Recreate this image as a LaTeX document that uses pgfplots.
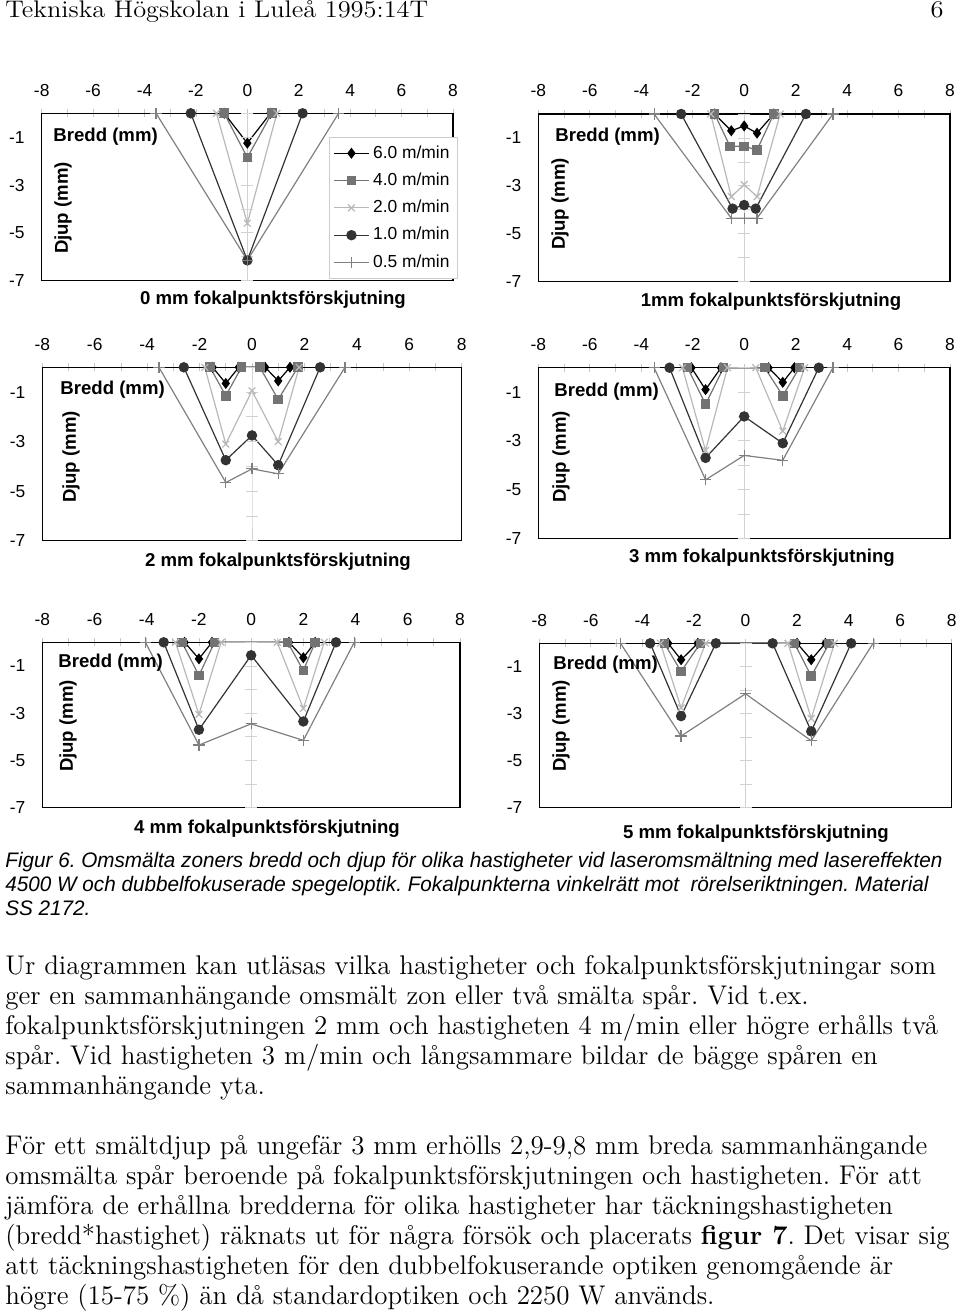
\documentclass[border=0pt]{standalone}
\usepackage{pgfplots}
\pgfplotsset{compat=1.18}
\usepackage{fontspec}
\newfontfamily\chartfont{Liberation Sans}
\newfontfamily\capfont[FakeStretch=0.985]{Liberation Sans}
\newfontfamily\bodyfont[Extension=.otf,UprightFont=*-regular,BoldFont=*-bold]{lmroman12}
\newfontfamily\headfont[Extension=.otf,UprightFont=*-regular,FakeStretch=1.1]{lmroman12}

\definecolor{c4}{gray}{0.45}
\definecolor{c2}{gray}{0.72}
\definecolor{c1}{gray}{0.2}
\definecolor{c05}{gray}{0.5}

\newcommand\tickfont{\chartfont\fontsize{8.7}{10}\selectfont}
\newcommand\labfont{\chartfont\bfseries\fontsize{9.3}{11}\selectfont}

\pgfplotsset{
  v6/.style={black, line width=0.6pt, mark=diamond*, mark size=2.3pt, mark options={solid, fill=black}},
  v4/.style={c4, line width=0.6pt, mark=square*, mark size=2.1pt, mark options={solid, fill=c4}},
  v2/.style={c2, line width=0.6pt, mark=x, mark size=2.4pt, mark options={solid}},
  v1/.style={c1, line width=0.6pt, mark=*, mark size=2.3pt, mark options={solid, fill=c1}},
  v05/.style={c05, line width=0.6pt, mark=+, mark size=2.8pt, mark options={solid}},
  panel/.style={
    scale only axis,
    anchor=north west,
    xmin=-8, xmax=8, ymin=-7, ymax=0,
    xtick={-8,-6,...,8},
    xticklabels={-8,-6,-4,-2,0,2,4,6,8},
    minor xtick={-7,-5,...,7},
    xtick pos=right,
    xticklabel pos=right,
    tick align=center,
    major tick length=4pt,
    minor tick length=4pt,
    tick style={gray!45, line width=0.4pt},
    ytick={-1,-3,-5,-7},
    yticklabels={-1,-3,-5,-7},
    ytick style={draw=none},
    ticklabel style={font=\tickfont},
    xticklabel style={yshift=3pt},
    yticklabel style={xshift=-3pt},
    axis line style={black, line width=0.7pt},
    clip=false,
  },
}

% light vertical axis at x = 0 with its small ticks
\newcommand\zeroline{\addplot[gray!35, line width=0.4pt, mark=-, mark size=3pt, forget plot]
  coordinates {(0,0) (0,-1) (0,-2) (0,-3) (0,-4) (0,-5) (0,-6) (0,-7)};}

\begin{document}
\frenchspacing
\begin{tikzpicture}
\path[use as bounding box] (0,0) rectangle (480pt,-657.5pt);

% header
\node[anchor=base west, inner sep=0] at (2.5pt,-9pt) {\headfont\fontsize{12}{14}\selectfont Tekniska Högskolan i Luleå 1995:14T};
\node[anchor=base, inner sep=0] at (468.5pt,-9pt) {\headfont\fontsize{12}{14}\selectfont 6};

% 0 mm
\begin{axis}[panel, at={(20.85pt,-56.65pt)}, width=205.65pt, height=83.7pt,
  legend style={at={(1.012,0.858)}, anchor=north east, draw=gray!40, line width=0.4pt,
    fill=white, font=\tickfont, row sep=1.85pt, inner sep=2pt},
  legend cell align=left]
\zeroline
\addplot[v6] coordinates {(-0.9,0) (0,-1.25) (0.9,0)};
\addplot[v4] coordinates {(-0.9,0) (0,-1.85) (0.95,0)};
\addplot[v2] coordinates {(-1.2,0) (0,-4.6) (1.15,0)};
\addplot[v1] coordinates {(-2.2,0) (0,-6.15) (2.15,0)};
\addplot[v05] coordinates {(-3.55,0) (0,-6.15) (3.55,0)};
\legend{6.0 m/min, 4.0 m/min, 2.0 m/min, 1.0 m/min, 0.5 m/min}
\end{axis}

% 1 mm
\begin{axis}[panel, at={(269.15pt,-57pt)}, width=205.85pt, height=83.85pt]
\zeroline
\addplot[v6] coordinates {(-1.15,0) (-0.5,-0.7) (0,-0.5) (0.5,-0.8) (1.15,0)};
\addplot[v4] coordinates {(-1.15,0) (-0.55,-1.35) (0,-1.35) (0.5,-1.5) (1.15,0)};
\addplot[v2] coordinates {(-1.3,0) (-0.5,-3.45) (0,-2.95) (0.5,-3.45) (1.4,0)};
\addplot[v1] coordinates {(-2.45,0) (-0.45,-3.95) (0,-3.8) (0.45,-3.95) (2.4,0)};
\addplot[v05] coordinates {(-3.5,0) (-0.5,-4.35) (0,-4.35) (0.5,-4.35) (3.45,0)};
\end{axis}

% 2 mm
\begin{axis}[panel, at={(21.15pt,-183.65pt)}, width=209.7pt, height=86.7pt]
\zeroline
\addplot[v6] coordinates {(-1.5,0) (-1,-0.65) (-0.5,0) (0.5,0) (1,-0.55) (1.45,0)};
\addplot[v4] coordinates {(-1.6,0) (-1,-1.15) (-0.4,0) (0.3,0) (1,-1.3) (1.75,0)};
\addplot[v2] coordinates {(-1.8,0) (-1,-3.1) (0,-0.95) (1,-3.0) (1.8,0)};
\addplot[v1] coordinates {(-2.6,0) (-1,-3.75) (0,-2.75) (1,-3.95) (2.6,0)};
\addplot[v05] coordinates {(-3.55,0) (-1,-4.65) (0,-4.1) (1,-4.3) (3.55,0)};
\end{axis}

% 3 mm
\begin{axis}[panel, at={(269.15pt,-183.85pt)}, width=205.85pt, height=85.3pt]
\zeroline
\addplot[v6] coordinates {(-2.05,0) (-1.5,-0.9) (-0.9,0) (0.95,0) (1.5,-0.6) (1.95,0)};
\addplot[v4] coordinates {(-2.2,0) (-1.5,-1.5) (-0.8,0) (0.8,0) (1.5,-1.15) (2.15,0)};
\addplot[v2] coordinates {(-2.4,0) (-1.5,-3.4) (-0.65,0) (0.45,0) (1.5,-2.6) (2.35,0)};
\addplot[v1] coordinates {(-2.9,0) (-1.5,-3.7) (0,-2.0) (1.5,-3.1) (2.9,0)};
\addplot[v05] coordinates {(-3.5,0) (-1.5,-4.6) (0,-3.6) (1.5,-3.8) (3.45,0)};
\end{axis}

% 4 mm
\begin{axis}[panel, at={(21.15pt,-321.15pt)}, width=208.85pt, height=82.7pt]
\zeroline
\addplot[v6] coordinates {(-2.55,0) (-2,-0.7) (-1.5,0) (1.45,0) (2,-0.65) (2.45,0)};
\addplot[v4] coordinates {(-2.65,0) (-2,-1.4) (-1.4,0) (1.4,0) (2,-1.2) (2.45,0)};
\addplot[v2] coordinates {(-2.9,0) (-2,-3.05) (-1.15,0) (1.0,0) (2,-2.8) (2.8,0)};
\addplot[v1] coordinates {(-3.35,0) (-2,-3.7) (0,-0.55) (2,-3.35) (3.25,0)};
\addplot[v05] coordinates {(-4.05,0) (-2,-4.35) (0,-3.45) (2,-4.15) (3.95,0)};
\end{axis}

% 5 mm
\begin{axis}[panel, at={(269.65pt,-321.65pt)}, width=206.2pt, height=82.2pt]
\zeroline
\addplot[v6] coordinates {(-3.0,0) (-2.5,-0.7) (-1.85,0) (2.0,0) (2.55,-0.7) (3.1,0)};
\addplot[v4] coordinates {(-3.15,0) (-2.5,-1.2) (-1.75,0) (1.9,0) (2.55,-1.4) (3.25,0)};
\addplot[v2] coordinates {(-3.3,0) (-2.5,-2.75) (-1.55,0) (1.65,0) (2.55,-3.2) (3.45,0)};
\addplot[v1] coordinates {(-3.7,0) (-2.5,-3.1) (-1.15,0) (1.05,0) (2.55,-3.75) (4.1,0)};
\addplot[v05] coordinates {(-4.85,0) (-2.5,-3.95) (0,-2.15) (2.55,-4.15) (4.95,0)};
\end{axis}

% panel labels
\foreach \x/\y in {26.5/68.5, 277.5/68.5, 30/195, 277/196, 29/331.5, 276.5/332.5}
  \node[anchor=west, inner sep=0, font=\labfont] at (\x pt,-\y pt) {Bredd (mm)};
\foreach \x/\y in {31.5/104, 280/102, 35.5/228.5, 280.5/228.5, 34/363, 280.5/363}
  \node[rotate=90, inner sep=0, font=\labfont] at (\x pt,-\y pt) {Djup (mm)};
\node[inner sep=0, font=\labfont] at (136.5pt,-150pt) {0 mm fokalpunktsförskjutning};
\node[inner sep=0, font=\labfont] at (385.5pt,-151pt) {1mm fokalpunktsförskjutning};
\node[inner sep=0, font=\labfont] at (139pt,-281pt) {2 mm fokalpunktsförskjutning};
\node[inner sep=0, font=\labfont] at (381pt,-279pt) {3 mm fokalpunktsförskjutning};
\node[inner sep=0, font=\labfont] at (133.5pt,-414.5pt) {4 mm fokalpunktsförskjutning};
\node[inner sep=0, font=\labfont] at (378pt,-417pt) {5 mm fokalpunktsförskjutning};

% caption
\begin{scope}[every node/.style={anchor=base west, inner sep=0, font=\capfont\itshape\fontsize{10.5}{12}\selectfont}]
\node at (2.5pt,-433.5pt) {Figur 6. Omsmälta zoners bredd och djup för olika hastigheter vid laseromsmältning med lasereffekten};
\node at (2.5pt,-445.5pt) {4500 W och dubbelfokuserade spegeloptik. Fokalpunkterna vinkelrätt mot\ \ rörelseriktningen. Material};
\node at (2.5pt,-457.5pt) {SS 2172.};
\end{scope}

% body text
\begin{scope}[every node/.style={anchor=base west, inner sep=0, font=\bodyfont\fontsize{13.5}{15}\selectfont}]
\node at (2.5pt,-487pt) {Ur diagrammen kan utläsas vilka hastigheter och fokalpunktsförskjutningar som};
\node at (2.5pt,-502pt) {ger en sammanhängande omsmält zon eller två smälta spår. Vid t.ex.};
\node at (2.5pt,-517pt) {fokalpunktsförskjutningen 2 mm och hastigheten 4 m/min eller högre erhålls två};
\node at (2.5pt,-532pt) {spår. Vid hastigheten 3 m/min och långsammare bildar de bägge spåren en};
\node at (2.5pt,-547pt) {sammanhängande yta.};
\node at (2.5pt,-577pt) {För ett smältdjup på ungefär 3 mm erhölls 2,9-9,8 mm breda sammanhängande};
\node at (2.5pt,-592pt) {omsmälta spår beroende på fokalpunktsförskjutningen och hastigheten. För att};
\node at (2.5pt,-607pt) {jämföra de erhållna bredderna för olika hastigheter har täckningshastigheten};
\node at (2.5pt,-622pt) {(bredd*hastighet) räknats ut för några försök och placerats \textbf{figur 7}. Det visar sig};
\node at (2.5pt,-637pt) {att täckningshastigheten för den dubbelfokuserande optiken genomgående är};
\node at (2.5pt,-652pt) {högre (15-75 \%) än då standardoptiken och 2250 W används.};
\end{scope}
\end{tikzpicture}
\end{document}
